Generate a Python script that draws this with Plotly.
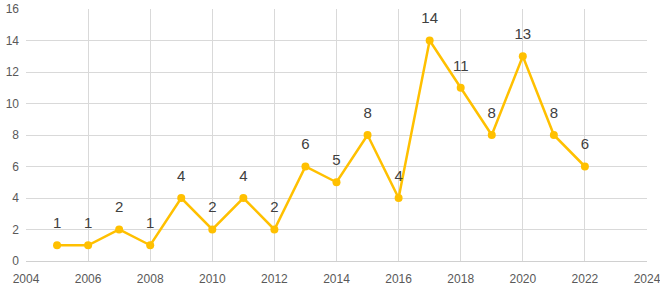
import plotly.graph_objects as go

years = [2005, 2006, 2007, 2008, 2009, 2010, 2011, 2012, 2013, 2014, 2015, 2016, 2017, 2018, 2019, 2020, 2021, 2022]
counts = [1, 1, 2, 1, 4, 2, 4, 2, 6, 5, 8, 4, 14, 11, 8, 13, 8, 6]
x_ticks = list(range(2004, 2025, 2))
y_ticks = list(range(0, 17, 2))

fig = go.Figure()
fig.add_trace(go.Scatter(
    x=years, y=counts, mode="lines+markers",
    line=dict(color="#FFC000", width=2.5),
    marker=dict(color="#FFC000", size=8),
    cliponaxis=False, showlegend=False, hoverinfo="skip",
))
fig.add_trace(go.Scatter(
    x=years, y=counts, mode="markers+text",
    text=[str(c) for c in counts], textposition="top center",
    textfont=dict(size=15, color="#404040", family="Liberation Sans"),
    marker=dict(color="rgba(0,0,0,0)", size=20),
    cliponaxis=False, showlegend=False,
))
fig.update_layout(
    width=660, height=286,
    margin=dict(l=26, r=13, t=9, b=25, autoexpand=False),
    plot_bgcolor="white", paper_bgcolor="white",
    font=dict(family="Liberation Sans", size=12, color="#595959"),
)
fig.update_xaxes(range=[2004, 2024], tickvals=x_ticks, showgrid=True, gridcolor="#d9d9d9",
                 gridwidth=1, zeroline=False, showline=True, linecolor="#d0d0d0",
                 ticks="", automargin=False, ticklabeloverflow="allow", ticklabelstandoff=7)
fig.update_yaxes(range=[0, 16], tickvals=y_ticks, showgrid=True, gridcolor="#d9d9d9",
                 gridwidth=1, zeroline=False, showline=False, ticks="", automargin=False,
                 ticklabeloverflow="allow", ticklabelstandoff=6)
fig.write_html("out.html", config={"displayModeBar": False},
               post_script="document.body.style.margin='0';document.body.style.overflow='hidden';")
